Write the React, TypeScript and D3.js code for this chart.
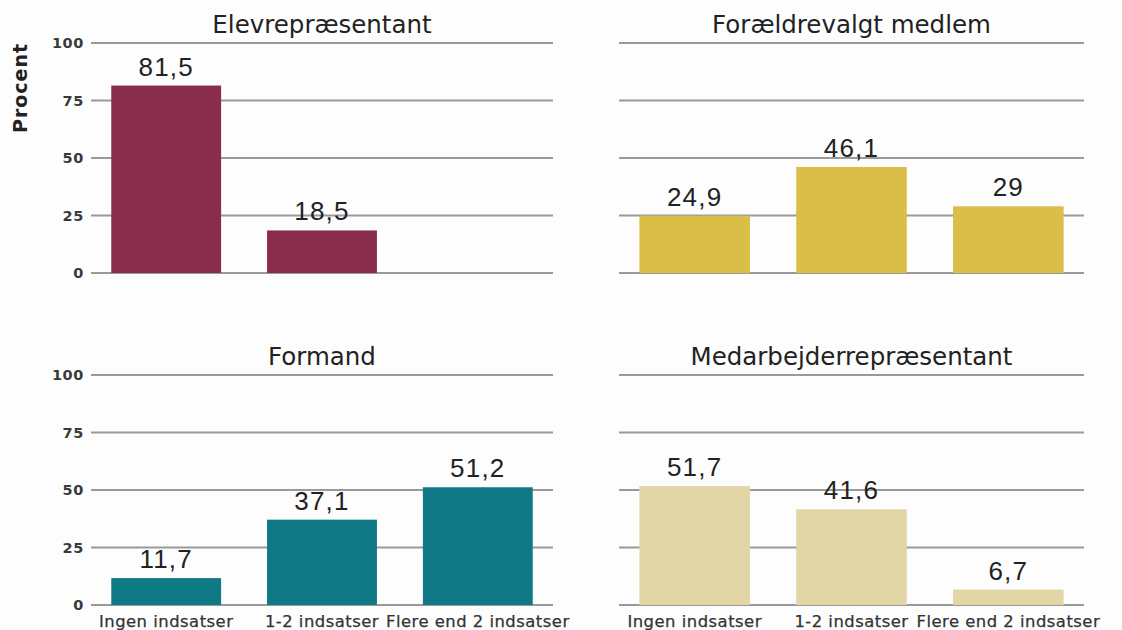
import { useEffect, useRef } from 'react'
import * as d3 from 'd3'

const categories = ['Ingen indsatser', '1-2 indsatser', 'Flere end 2 indsatser']
const titles = ['Elevrepræsentant', 'Forældrevalgt medlem', 'Formand', 'Medarbejderrepræsentant']
const elevValues = [81.5, 18.5, null]
const foraeldreValues = [24.9, 46.1, 29]
const formandValues = [11.7, 37.1, 51.2]
const medarbejderValues = [51.7, 41.6, 6.7]
const colors = ['#8a2d4d', '#dbbe48', '#0f7a86', '#e2d5a6']
const yTicks = [0, 25, 50, 75, 100]

const W = 1122
const H = 630

export default function App() {
  const ref = useRef<SVGSVGElement>(null)

  useEffect(() => {
    const svg = d3.select(ref.current)
    svg.selectAll('*').remove()

    const series = [elevValues, foraeldreValues, formandValues, medarbejderValues]
    const cols = [[91, 553], [619, 1084]]
    const rows = [[273, 43], [605, 375]]

    series.forEach((values, i) => {
      const [x0, x1] = cols[i % 2]
      const [y0, y1] = rows[Math.floor(i / 2)]
      const x = d3.scaleBand<string>().domain(categories).range([x0, x1]).paddingInner(0.295).paddingOuter(0.13)
      const y = d3.scaleLinear().domain([0, 100]).range([y0, y1])
      const g = svg.append('g')

      g.selectAll('line.grid')
        .data(yTicks)
        .enter().append('line')
        .attr('x1', x0).attr('x2', x1)
        .attr('y1', (d) => y(d)).attr('y2', (d) => y(d))
        .attr('stroke', '#9a9a9a')
        .attr('stroke-width', 2)

      if (i % 2 === 0) {
        g.selectAll('text.tick')
          .data(yTicks)
          .enter().append('text')
          .attr('x', 84)
          .attr('y', (d) => y(d))
          .attr('dy', '0.36em')
          .attr('text-anchor', 'end')
          .attr('font-family', 'DejaVu Sans')
          .attr('font-weight', 'bold')
          .attr('font-size', 14.5)
          .attr('letter-spacing', 0.6)
          .attr('fill', '#3a3a3a')
          .text((d) => d)
      }

      const bars = categories.map((c, j) => ({ c, v: values[j] })).filter((d) => d.v != null) as { c: string; v: number }[]

      g.selectAll('rect')
        .data(bars)
        .enter().append('rect')
        .attr('x', (d) => x(d.c)!)
        .attr('width', x.bandwidth())
        .attr('y', (d) => y(d.v))
        .attr('height', (d) => y0 - y(d.v))
        .attr('fill', colors[i])

      g.selectAll('text.val')
        .data(bars)
        .enter().append('text')
        .attr('x', (d) => x(d.c)! + x.bandwidth() / 2)
        .attr('y', (d) => y(d.v) - 10)
        .attr('text-anchor', 'middle')
        .attr('font-family', 'Liberation Sans, Arial')
        .attr('font-size', 26)
        .attr('letter-spacing', 1.2)
        .attr('fill', '#222')
        .text((d) => String(d.v).replace('.', ','))

      g.append('text')
        .attr('x', (x0 + x1) / 2)
        .attr('y', y1 - 10)
        .attr('text-anchor', 'middle')
        .attr('font-family', 'DejaVu Sans')
        .attr('font-size', 24.5)
        .attr('fill', '#222')
        .text(titles[i])

      if (i >= 2) {
        g.selectAll('text.cat')
          .data(categories)
          .enter().append('text')
          .attr('x', (d) => x(d)! + x.bandwidth() / 2)
          .attr('y', y0 + 22)
          .attr('text-anchor', 'middle')
          .attr('font-family', 'DejaVu Sans')
          .attr('font-size', 16.4)
          .attr('letter-spacing', 0.5)
          .attr('stroke', '#333')
          .attr('stroke-width', 0.25)
          .attr('fill', '#333')
          .text((d) => d)
      }
    })

    svg.append('text')
      .attr('transform', 'translate(27,88) rotate(-90)')
      .attr('text-anchor', 'middle')
      .attr('font-family', 'DejaVu Sans')
      .attr('font-weight', 'bold')
      .attr('font-size', 19)
      .attr('letter-spacing', 1)
      .attr('fill', '#222')
      .text('Procent')
  }, [])

  return (
    <svg
      ref={ref}
      width={W}
      height={H}
      style={{ position: 'absolute', left: 0, top: 0, background: '#fdfdfd' }}
    />
  )
}
